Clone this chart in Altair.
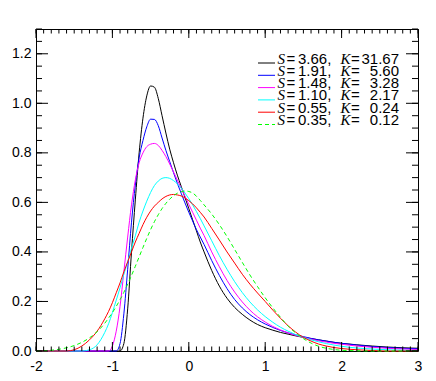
import altair as alt
import pandas as pd

# ---------------- data ----------------
x_grid = [-2.0, -1.9, -1.8, -1.7, -1.6, -1.5, -1.4, -1.3, -1.2, -1.1,
          -1.05, -1.0, -0.95, -0.9, -0.85, -0.8, -0.75, -0.7, -0.65, -0.6,
          -0.55, -0.5, -0.45, -0.4, -0.35, -0.3, -0.25, -0.2, -0.15, -0.1,
          -0.05, 0.0, 0.05, 0.1, 0.15, 0.2,
          0.3, 0.4, 0.5, 0.6, 0.7, 0.8, 0.9, 1.0, 1.1, 1.2, 1.3, 1.4, 1.5,
          1.6, 1.7, 1.8, 1.9, 2.0,
          2.2, 2.4, 2.6, 2.8, 3.0]

black_y = [0, 0, 0, 0, 0, 0, 0, 0, 0, 0,
           0, 0, 0, 0.0, 0.03, 0.17, 0.40, 0.61, 0.80, 0.94,
           1.03, 1.07, 1.065, 1.02, 0.95, 0.88, 0.815, 0.76, 0.71, 0.665,
           0.62, 0.575, 0.53, 0.485, 0.44, 0.40,
           0.325, 0.262, 0.213, 0.176, 0.148, 0.125, 0.107, 0.094, 0.084, 0.075, 0.068, 0.061, 0.055,
           0.05, 0.045, 0.04, 0.035, 0.031,
           0.025, 0.02, 0.016, 0.013, 0.011]

blue_y = [0, 0, 0, 0, 0, 0, 0, 0, 0, 0,
          0, 0, 0.0, 0.03, 0.15, 0.33, 0.52, 0.67, 0.78, 0.85,
          0.905, 0.936, 0.935, 0.91, 0.86, 0.81, 0.765, 0.72, 0.677, 0.637,
          0.598, 0.56, 0.525, 0.49, 0.46, 0.43,
          0.365, 0.305, 0.252, 0.208, 0.174, 0.147, 0.126, 0.109, 0.095, 0.083, 0.073, 0.065, 0.058,
          0.051, 0.045, 0.04, 0.035, 0.031,
          0.024, 0.018, 0.014, 0.011, 0.009]

magenta_y = [0, 0, 0, 0, 0, 0, 0, 0, 0, 0,
             0.0, 0.02, 0.08, 0.18, 0.32, 0.46, 0.59, 0.69, 0.76, 0.80,
             0.825, 0.835, 0.838, 0.83, 0.81, 0.785, 0.755, 0.723, 0.69, 0.658,
             0.625, 0.592, 0.56, 0.528, 0.496, 0.466,
             0.40, 0.34, 0.285, 0.238, 0.198, 0.165, 0.138, 0.117, 0.099, 0.085, 0.073, 0.063, 0.055,
             0.048, 0.041, 0.036, 0.031, 0.027,
             0.02, 0.015, 0.011, 0.008, 0.006]

cyan_y = [0, 0, 0, 0, 0, 0, 0.0, 0.005, 0.025, 0.075,
          0.11, 0.155, 0.205, 0.255, 0.31, 0.36, 0.415, 0.465, 0.52, 0.565,
          0.605, 0.64, 0.668, 0.686, 0.697, 0.70, 0.697, 0.688, 0.675, 0.658,
          0.638, 0.615, 0.59, 0.563, 0.535, 0.505,
          0.445, 0.385, 0.33, 0.28, 0.236, 0.198, 0.166, 0.139, 0.116, 0.096, 0.08, 0.066, 0.055,
          0.045, 0.037, 0.03, 0.024, 0.019,
          0.012, 0.008, 0.005, 0.003, 0.002]

red_y = [0, 0, 0, 0, 0.0, 0.005, 0.02, 0.045, 0.08, 0.13,
         0.16, 0.195, 0.235, 0.275, 0.32, 0.36, 0.40, 0.44, 0.475, 0.51,
         0.54, 0.565, 0.585, 0.60, 0.614, 0.624, 0.63, 0.632, 0.63, 0.626,
         0.618, 0.607, 0.594, 0.578, 0.56, 0.541,
         0.495, 0.448, 0.40, 0.355, 0.31, 0.27, 0.234, 0.20, 0.165, 0.132, 0.102, 0.076, 0.055,
         0.04, 0.028, 0.02, 0.014, 0.01,
         0.005, 0.002, 0.0, 0.0, 0.0]

green_y = [0.0, 0.001, 0.003, 0.007, 0.013, 0.022, 0.035, 0.053, 0.078, 0.112,
           0.133, 0.155, 0.18, 0.207, 0.237, 0.27, 0.305, 0.342, 0.38, 0.418,
           0.455, 0.49, 0.522, 0.55, 0.575, 0.596, 0.613, 0.627, 0.637, 0.643,
           0.646, 0.644, 0.638, 0.625, 0.608, 0.59,
           0.553, 0.51, 0.462, 0.41, 0.358, 0.307, 0.26, 0.215, 0.174, 0.136, 0.10, 0.073, 0.05,
           0.032, 0.019, 0.011, 0.006, 0.003,
           0.001, 0.0, 0.0, 0.0, 0.0]

series_y = [black_y, blue_y, magenta_y, cyan_y, red_y, green_y]
colors = ["#000000", "#0000ff", "#ff00ff", "#00ffff", "#ff0000", "#00ff00"]
dashes = [None, None, None, None, None, [4, 3]]
s_labels = ["3.66", "1.91", "1.48", "1.10", "0.55", "0.35"]
k_labels = ["31.67", "5.60", "3.28", "2.17", "0.24", "0.12"]

x_major = [-2, -1, 0, 1, 2, 3]
y_major = [0.0, 0.2, 0.4, 0.6, 0.8, 1.0, 1.2]
x_minor = [round(-2 + 0.1 * i, 2) for i in range(51)]
y_minor = [round(0.05 * i, 2) for i in range(27)]

# ---------------- layout ----------------
W, H = 382, 322
FONT = "Liberation Sans"
xscale = alt.Scale(domain=[-2, 3], nice=False, zero=False)
yscale = alt.Scale(domain=[0, 1.3], nice=False, zero=False)

x_axis = alt.Axis(values=x_major, labelExpr="'' + datum.value", ticks=False,
                  domain=False, grid=False, title=None, labelFont=FONT, labelFontSize=14,
                  labelColor="black", labelPadding=8, labelFlush=False)
y_axis = alt.Axis(values=y_major, labelExpr="format(datum.value, '.1f')", ticks=False,
                  domain=False, grid=False, title=None, labelFont=FONT, labelFontSize=14,
                  labelColor="black", labelPadding=5, labelFlush=False)

layers = []

# curves
for vals, col, dash in zip(series_y, colors, dashes):
    df = pd.DataFrame({"x": x_grid, "y": vals})
    mk = dict(color=col, strokeWidth=1, interpolate="monotone")
    if dash:
        mk["strokeDash"] = dash
    layers.append(
        alt.Chart(df).mark_line(**mk).encode(
            x=alt.X("x:Q", scale=xscale, axis=x_axis),
            y=alt.Y("y:Q", scale=yscale, axis=y_axis),
        )
    )

# inward ticks on all four sides
def xticks(vals, length):
    d = pd.DataFrame({"v": vals})
    bottom = alt.Chart(d).mark_rule(color="black", strokeWidth=1).encode(
        x=alt.X("v:Q", scale=xscale, axis=x_axis), y=alt.value(H), y2=alt.value(H - length))
    top = alt.Chart(d).mark_rule(color="black", strokeWidth=1).encode(
        x=alt.X("v:Q", scale=xscale, axis=x_axis), y=alt.value(0), y2=alt.value(length))
    return [bottom, top]

def yticks(vals, length):
    d = pd.DataFrame({"v": vals})
    left = alt.Chart(d).mark_rule(color="black", strokeWidth=1).encode(
        y=alt.Y("v:Q", scale=yscale, axis=y_axis), x=alt.value(0), x2=alt.value(length))
    right = alt.Chart(d).mark_rule(color="black", strokeWidth=1).encode(
        y=alt.Y("v:Q", scale=yscale, axis=y_axis), x=alt.value(W), x2=alt.value(W - length))
    return [left, right]

layers += xticks(x_minor, 4.5) + xticks(x_major, 9) + yticks(y_minor, 6) + yticks(y_major, 12)

# legend (manual, to get italic S and K)
one = pd.DataFrame({"a": [0]})
it = dict(align="left", baseline="alphabetic", font="Liberation Serif",
          fontStyle="italic", fontSize=15, color="black")
nt = dict(align="left", baseline="alphabetic", font=FONT, fontSize=15, color="black")
for i, (col, dash, s, k) in enumerate(zip(colors, dashes, s_labels, k_labels)):
    base_y = 34.5 + i * 12.3
    rk = dict(color=col, strokeWidth=1)
    if dash:
        rk["strokeDash"] = dash
    layers.append(alt.Chart(one).mark_rule(**rk).encode(
        x=alt.value(222), x2=alt.value(239), y=alt.value(base_y - 0.5)))
    layers.append(alt.Chart(one).mark_text(text="S", **it).encode(
        x=alt.value(241.5), y=alt.value(base_y)))
    layers.append(alt.Chart(one).mark_text(text="=", **nt).encode(
        x=alt.value(250.5), y=alt.value(base_y)))
    layers.append(alt.Chart(one).mark_text(text=s + ",", **nt).encode(
        x=alt.value(262), y=alt.value(base_y)))
    layers.append(alt.Chart(one).mark_text(text="K", **it).encode(
        x=alt.value(304.5), y=alt.value(base_y)))
    layers.append(alt.Chart(one).mark_text(text="=", **nt).encode(
        x=alt.value(315), y=alt.value(base_y)))
    layers.append(alt.Chart(one).mark_text(text=k, **dict(nt, align="right")).encode(
        x=alt.value(363), y=alt.value(base_y)))

chart = alt.layer(*layers).properties(
    width=W, height=H,
    autosize=alt.AutoSizeParams(type="none"),
    padding={"left": 28, "top": 21, "right": 10, "bottom": 22},
).configure(background="white", view=alt.ViewConfig(stroke="black", strokeWidth=1))

chart.save("out.html", embed_options={"renderer": "svg", "actions": False})
